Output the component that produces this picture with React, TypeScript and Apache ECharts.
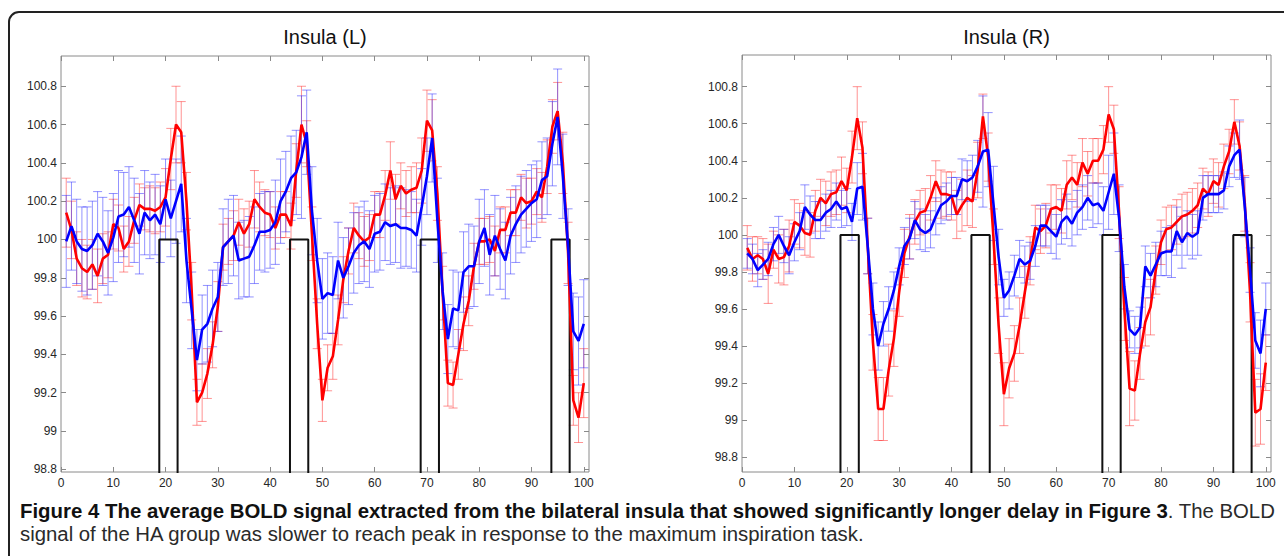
import React, { useEffect, useRef } from "react";
import * as echarts from "echarts";

const xTicks = [0, 10, 20, 30, 40, 50, 60, 70, 80, 90, 100];
const yTicks = [98.8, 99, 99.2, 99.4, 99.6, 99.8, 100, 100.2, 100.4, 100.6, 100.8];

const panelTitles = ["Insula (L)", "Insula (R)"];

const boxOn = [18.8, 43.8, 68.8, 93.8];
const boxOff = [22.3, 47.3, 72.3, 97.3];
const boxHigh = 100;
const boxLow = 98;

const leftRed = [
  100.14, 100.05, 99.9, 99.85, 99.83, 99.87, 99.81, 99.9, 99.92, 100.08,
  100.06, 99.95, 99.99, 100.1, 100.18, 100.16, 100.16, 100.15, 100.17, 100.22,
  100.42, 100.6, 100.56, 100.2, 99.73, 99.15, 99.2, 99.3, 99.45, 99.65,
  99.96, 99.99, 100.02, 100.09, 100.03, 100.08, 100.21, 100.17, 100.14, 100.13,
  100.06, 100.13, 100.13, 100.07, 100.36, 100.6, 100.5, 100.03, 99.56, 99.16,
  99.33, 99.39, 99.58, 99.79, 99.94, 100.06, 100.02, 99.99, 100.01, 100.13,
  100.13, 100.23, 100.36, 100.21, 100.28, 100.24, 100.26, 100.27, 100.36, 100.62,
  100.57, 100.24, 99.72, 99.25, 99.24, 99.4, 99.56, 99.68, 99.86, 99.99,
  99.99, 100.0, 99.94, 100.05, 100.05, 100.14, 100.14, 100.22, 100.19, 100.2,
  100.25, 100.22, 100.38, 100.59, 100.67, 100.4, 99.93, 99.16, 99.07, 99.25,
];
const leftRedErr = [
  0.18, 0.15, 0.14, 0.15, 0.14, 0.13, 0.14, 0.13, 0.12, 0.13,
  0.12, 0.12, 0.13, 0.12, 0.11, 0.11, 0.12, 0.12, 0.13, 0.15,
  0.16, 0.2, 0.16, 0.15, 0.15, 0.12, 0.15, 0.13, 0.12, 0.13,
  0.12, 0.12, 0.13, 0.12, 0.13, 0.12, 0.15, 0.13, 0.12, 0.12,
  0.11, 0.12, 0.12, 0.12, 0.14, 0.2, 0.12, 0.14, 0.13, 0.11,
  0.12, 0.12, 0.13, 0.12, 0.12, 0.13, 0.12, 0.13, 0.12, 0.12,
  0.12, 0.13, 0.15, 0.13, 0.12, 0.12, 0.12, 0.13, 0.17, 0.16,
  0.16, 0.14, 0.14, 0.12, 0.12, 0.13, 0.14, 0.13, 0.12, 0.12,
  0.12, 0.12, 0.13, 0.12, 0.12, 0.12, 0.12, 0.12, 0.13, 0.12,
  0.12, 0.13, 0.14, 0.14, 0.15, 0.16, 0.16, 0.13, 0.13, 0.18,
];
const leftBlue = [
  99.99, 100.07, 99.99, 99.95, 99.94, 99.97, 100.03, 99.99, 99.93, 100.01,
  100.12, 100.13, 100.17, 100.1, 100.03, 100.14, 100.1, 100.13, 100.08, 100.21,
  100.11, 100.2, 100.29, 99.89, 99.63, 99.37, 99.53, 99.56, 99.64, 99.7,
  99.96, 99.99, 100.02, 99.89, 99.9, 99.91, 99.97, 100.04, 100.04, 100.05,
  100.09, 100.2, 100.25, 100.32, 100.35, 100.43, 100.56, 100.15, 99.89, 99.69,
  99.72, 99.71, 99.89, 99.8, 99.86, 99.93, 99.97, 99.99, 99.95, 100.03,
  100.04, 100.09, 100.07, 100.08, 100.06, 100.06, 100.05, 100.02, 100.17, 100.33,
  100.53, 100.1, 99.73, 99.48, 99.64, 99.63, 99.83, 99.86, 99.86, 99.99,
  100.06, 99.92, 100.02, 99.95, 99.89, 100.02, 100.08, 100.13, 100.16, 100.19,
  100.21, 100.31, 100.33, 100.5, 100.64, 100.33, 99.96, 99.52, 99.47, 99.56,
];
const leftBlueErr = [
  0.24, 0.23, 0.22, 0.22, 0.23, 0.23, 0.22, 0.23, 0.22, 0.23,
  0.24, 0.22, 0.21, 0.22, 0.21, 0.22, 0.2, 0.21, 0.2, 0.21,
  0.2, 0.22, 0.25, 0.22, 0.2, 0.16, 0.18, 0.2, 0.2, 0.18,
  0.2, 0.22, 0.21, 0.2, 0.2, 0.21, 0.2, 0.2, 0.21, 0.2,
  0.22, 0.22, 0.21, 0.22, 0.22, 0.32, 0.22, 0.23, 0.22, 0.21,
  0.21, 0.2, 0.2, 0.21, 0.2, 0.21, 0.2, 0.21, 0.2, 0.2,
  0.2, 0.2, 0.2, 0.2, 0.21, 0.2, 0.2, 0.19, 0.2, 0.2,
  0.23, 0.22, 0.2, 0.18, 0.2, 0.2, 0.21, 0.22, 0.21, 0.22,
  0.2, 0.21, 0.21, 0.21, 0.2, 0.2, 0.2, 0.2, 0.2, 0.2,
  0.2, 0.2, 0.2, 0.22, 0.25, 0.22, 0.2, 0.2, 0.23, 0.23,
];
const rightRed = [
  99.93, 99.87, 99.89, 99.87, 99.79, 99.92, 99.87, 99.88, 99.94, 100.07,
  100.05, 100.01, 100.0, 100.13, 100.2, 100.17, 100.22, 100.23, 100.29, 100.24,
  100.42, 100.63, 100.47, 99.94, 99.42, 99.06, 99.06, 99.27, 99.44, 99.69,
  99.9, 99.99, 100.07, 100.12, 100.13, 100.2, 100.29, 100.22, 100.22, 100.21,
  100.11, 100.16, 100.2, 100.18, 100.35, 100.64, 100.42, 99.99, 99.51, 99.14,
  99.28, 99.36, 99.51, 99.69, 99.86, 100.04, 100.02, 100.05, 100.14, 100.15,
  100.13, 100.27, 100.31, 100.27, 100.39, 100.33, 100.4, 100.4, 100.46, 100.65,
  100.57, 100.12, 99.6, 99.17, 99.16, 99.36, 99.53, 99.61, 99.81, 99.96,
  100.03, 100.04, 100.07, 100.1, 100.11, 100.13, 100.16, 100.25, 100.22, 100.29,
  100.27, 100.37, 100.45, 100.61, 100.48, 100.17, 99.69, 99.04, 99.06, 99.31,
];
const rightRedErr = [
  0.12, 0.12, 0.1, 0.11, 0.16, 0.1, 0.13, 0.15, 0.14, 0.12,
  0.12, 0.12, 0.12, 0.11, 0.1, 0.12, 0.12, 0.12, 0.13, 0.12,
  0.14, 0.17, 0.14, 0.15, 0.15, 0.17, 0.17, 0.14, 0.15, 0.13,
  0.13, 0.12, 0.12, 0.12, 0.12, 0.12, 0.11, 0.13, 0.12, 0.13,
  0.13, 0.14, 0.15, 0.14, 0.15, 0.12, 0.13, 0.15, 0.15, 0.17,
  0.16, 0.15, 0.15, 0.14, 0.13, 0.12, 0.12, 0.12, 0.13, 0.12,
  0.12, 0.13, 0.12, 0.12, 0.13, 0.12, 0.12, 0.12, 0.13, 0.15,
  0.13, 0.14, 0.17, 0.2, 0.16, 0.14, 0.13, 0.15, 0.13, 0.12,
  0.12, 0.12, 0.12, 0.12, 0.12, 0.12, 0.12, 0.11, 0.12, 0.12,
  0.12, 0.12, 0.12, 0.12, 0.13, 0.15, 0.16, 0.18, 0.19, 0.15,
];
const rightBlue = [
  99.9, 99.87, 99.81, 99.84, 99.87, 99.95, 100.0, 99.94, 99.89, 99.96,
  100.02, 100.15, 100.11, 100.08, 100.08, 100.12, 100.14, 100.18, 100.14, 100.15,
  100.07, 100.25, 100.26, 99.94, 99.6, 99.4, 99.52, 99.6, 99.7, 99.83,
  99.94, 99.98, 100.08, 100.03, 100.01, 100.03, 100.1, 100.16, 100.18, 100.21,
  100.21, 100.3, 100.29, 100.31, 100.37, 100.45, 100.46, 100.17, 99.88, 99.66,
  99.7, 99.78, 99.87, 99.84, 99.86, 99.94, 100.05, 100.05, 100.02, 99.99,
  100.07, 100.1, 100.06, 100.12, 100.15, 100.2, 100.16, 100.17, 100.13, 100.23,
  100.33, 100.09, 99.72, 99.49, 99.46, 99.5, 99.83, 99.78, 99.84, 99.9,
  99.91, 99.91, 100.02, 99.96, 100.01, 99.99, 100.01, 100.2, 100.22, 100.22,
  100.22, 100.24, 100.37, 100.43, 100.46, 100.15, 99.81, 99.43, 99.36, 99.6,
];
const rightBlueErr = [
  0.08, 0.08, 0.09, 0.08, 0.09, 0.09, 0.1, 0.09, 0.1, 0.1,
  0.1, 0.12, 0.1, 0.1, 0.1, 0.1, 0.1, 0.1, 0.1, 0.1,
  0.1, 0.14, 0.18, 0.15, 0.14, 0.13, 0.12, 0.12, 0.1, 0.1,
  0.1, 0.11, 0.1, 0.11, 0.1, 0.1, 0.1, 0.1, 0.1, 0.1,
  0.1, 0.11, 0.11, 0.12, 0.14, 0.3, 0.2, 0.2, 0.15, 0.1,
  0.1, 0.11, 0.1, 0.1, 0.1, 0.11, 0.11, 0.11, 0.12, 0.12,
  0.12, 0.12, 0.12, 0.12, 0.12, 0.12, 0.12, 0.11, 0.13, 0.2,
  0.22, 0.18, 0.12, 0.1, 0.1, 0.11, 0.11, 0.12, 0.12, 0.12,
  0.13, 0.14, 0.13, 0.14, 0.12, 0.12, 0.12, 0.12, 0.1, 0.1,
  0.1, 0.1, 0.11, 0.12, 0.16, 0.16, 0.12, 0.15, 0.18, 0.14,
];

const captionBold =
  "Figure 4 The average BOLD signal extracted from the bilateral insula that showed significantly longer delay in Figure 3";
const captionRest = ". The BOLD";
const captionLine2 =
  "signal of the HA group was slower to reach peak in response to the maximum inspiration task.";

const panels = [
  { left: 61, width: 528, top: 56, height: 416, yMin: 98.786, yMax: 100.958, red: leftRed, redErr: leftRedErr, blue: leftBlue, blueErr: leftBlueErr },
  { left: 742, width: 529, top: 55, height: 417, yMin: 98.72, yMax: 100.971, red: rightRed, redErr: rightRedErr, blue: rightBlue, blueErr: rightBlueErr },
];

const FRAME = "#8a8a8a";
const LABEL = "#262626";
const FONT = "Liberation Sans";

function boxcarData() {
  const d: number[][] = [[0, boxLow]];
  boxOn.forEach((on, i) => {
    d.push([on, boxLow], [on, boxHigh], [boxOff[i], boxHigh], [boxOff[i], boxLow]);
  });
  d.push([101, boxLow]);
  return d;
}

function errData(vals: number[], errs: number[]) {
  return vals.map((v, i) => [i + 1, v - errs[i], v + errs[i]]);
}

function errSeries(vals: number[], errs: number[], color: string, ax: number) {
  return {
    type: "custom",
    xAxisIndex: ax,
    yAxisIndex: ax,
    clip: true,
    silent: true,
    data: errData(vals, errs),
    encode: { x: 0, y: [1, 2] },
    renderItem: (params: any, api: any) => {
      const x = api.value(0);
      const lo = api.coord([x, api.value(1)]);
      const hi = api.coord([x, api.value(2)]);
      const h = 4.5;
      const style = { stroke: color, lineWidth: 1, fill: "none" };
      return {
        type: "group",
        children: [
          { type: "line", shape: { x1: lo[0], y1: lo[1], x2: hi[0], y2: hi[1] }, style },
          { type: "line", shape: { x1: lo[0] - h, y1: lo[1], x2: lo[0] + h, y2: lo[1] }, style },
          { type: "line", shape: { x1: hi[0] - h, y1: hi[1], x2: hi[0] + h, y2: hi[1] }, style },
        ],
      };
    },
  };
}

function lineSeries(vals: number[], color: string, ax: number) {
  return {
    type: "line",
    xAxisIndex: ax,
    yAxisIndex: ax,
    data: vals.map((v, i) => [i + 1, v]),
    symbol: "none",
    lineStyle: { color, width: 2.6 },
    clip: true,
    silent: true,
  };
}

export default function App() {
  const ref = useRef<HTMLDivElement>(null);
  useEffect(() => {
    if (!ref.current) return;
    const chart = echarts.init(ref.current, undefined, { renderer: "svg" });
    const grids: any[] = [];
    const xAxes: any[] = [];
    const yAxes: any[] = [];
    const series: any[] = [];
    const graphics: any[] = [];

    const tickStyle = { show: true, inside: true, length: 5, lineStyle: { color: FRAME, width: 1 } };

    panels.forEach((p, gi) => {
      grids.push({
        left: p.left,
        top: p.top,
        width: p.width,
        height: p.height,
        show: true,
        borderColor: FRAME,
        borderWidth: 1,
        backgroundColor: "transparent",
        containLabel: false,
      });
      ["bottom", "top"].forEach((pos, k) => {
        xAxes.push({
          type: "value",
          gridIndex: gi,
          position: pos,
          min: 0,
          max: 101,
          axisLine: { show: false, onZero: false },
          axisTick: { ...tickStyle, customValues: xTicks },
          axisLabel: {
            show: k === 0,
            customValues: xTicks,
            fontFamily: FONT,
            fontSize: 12,
            color: LABEL,
            margin: 5,
          },
          splitLine: { show: false },
        });
      });
      ["left", "right"].forEach((pos, k) => {
        yAxes.push({
          type: "value",
          gridIndex: gi,
          position: pos,
          min: p.yMin,
          max: p.yMax,
          axisLine: { show: false, onZero: false },
          axisTick: { ...tickStyle, customValues: yTicks },
          axisLabel: {
            show: k === 0,
            customValues: yTicks,
            fontFamily: FONT,
            fontSize: 12,
            color: LABEL,
            margin: 4,
          },
          splitLine: { show: false },
        });
      });
      const ax = gi * 2;
      series.push({
        type: "line",
        xAxisIndex: ax,
        yAxisIndex: ax,
        data: boxcarData(),
        symbol: "none",
        lineStyle: { color: "#111", width: 2 },
        clip: true,
        silent: true,
      });
      series.push(errSeries(p.red, p.redErr, "rgba(255,40,40,0.5)", ax));
      series.push(errSeries(p.blue, p.blueErr, "rgba(40,40,255,0.5)", ax));
      series.push(lineSeries(p.red, "#ff0000", ax));
      series.push(lineSeries(p.blue, "#0000ff", ax));

      graphics.push({
        type: "text",
        x: p.left + p.width / 2,
        y: 37,
        style: {
          text: panelTitles[gi],
          fontFamily: FONT,
          fontSize: 20,
          fill: "#111",
          align: "center",
          verticalAlign: "middle",
        },
      });
    });

    graphics.push({
      type: "rect",
      shape: { x: 9, y: 12, width: 1400, height: 700, r: 10 },
      style: { fill: "none", stroke: "#222", lineWidth: 2 },
      silent: true,
    });
    graphics.push({
      type: "text",
      x: 20,
      y: 522.5,
      style: {
        text: `{b|${captionBold}}{n|${captionRest}}\n{n|${captionLine2}}`,
        verticalAlign: "middle",
        rich: {
          b: { fontFamily: FONT, fontWeight: "bold", fontSize: 20.4, lineHeight: 23, fill: "#111" },
          n: { fontFamily: FONT, fontSize: 20.35, lineHeight: 23, fill: "#2a2a2a" },
        },
      },
    });

    chart.setOption({
      animation: false,
      backgroundColor: "#ffffff",
      grid: grids,
      xAxis: xAxes,
      yAxis: yAxes,
      series,
      graphic: graphics,
    });
    return () => chart.dispose();
  }, []);
  return (
    <div
      ref={ref}
      style={{ position: "absolute", left: 0, top: 0, width: 1284, height: 556 }}
    />
  );
}
